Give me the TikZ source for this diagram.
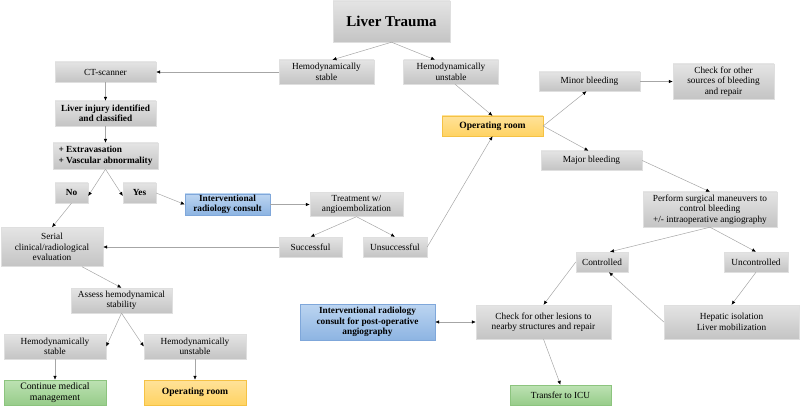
\documentclass[tikz,border=0pt]{standalone}
\usepackage{fontspec}
\setmainfont{Liberation Serif}
\usepackage{xcolor}
\usepackage{tikz}
\usetikzlibrary{arrows.meta,positioning}

\definecolor{boxtop}{HTML}{E4E4E4}
\definecolor{boxbot}{HTML}{C4C4C4}
\definecolor{blutop}{HTML}{BCD5F1}
\definecolor{blubot}{HTML}{8DB4E2}
\definecolor{blubrd}{HTML}{7FA7DA}
\definecolor{ortop}{HTML}{FFE299}
\definecolor{orbot}{HTML}{FFD363}
\definecolor{orbrd}{HTML}{F5C244}
\definecolor{grtop}{HTML}{BDE2B3}
\definecolor{grbot}{HTML}{97CC8A}
\definecolor{grbrd}{HTML}{8CC47E}

\begin{document}
\begin{tikzpicture}[
x=1pt, y=-1pt,
box/.style={
    rectangle, draw=gray!25,
    top color=boxtop, bottom color=boxbot,
    align=center, inner sep=0.5pt,
    font=\fontsize{9.3}{10.5}\selectfont
},
bluebox/.style={box, draw=blubrd, top color=blutop, bottom color=blubot,
    font=\fontsize{9.3}{10.5}\selectfont\bfseries},
orbox/.style={box, draw=orbrd, top color=ortop, bottom color=orbot,
    font=\fontsize{9.6}{10.5}\selectfont\bfseries},
grbox/.style={box, draw=grbrd, top color=grtop, bottom color=grbot},
bold/.style={font=\fontsize{9.3}{10.5}\selectfont\bfseries},
wh/.style 2 args={minimum width=#1pt, minimum height=#2pt},
arr/.style={-{Latex[length=4pt,width=3.5pt,color=black]}, draw=gray!70, line width=0.5pt}
]
\useasboundingbox (0,0) rectangle (800,406);

% top
\node[box, wh={117}{41}, font=\fontsize{15}{17}\selectfont\bfseries] (trauma) at (391.5,21.5) {Liver Trauma};
\node[box, wh={95}{24}] (hstab) at (326.5,72) {Hemodynamically\\stable};
\node[box, wh={95}{24}] (hunst) at (451,72) {Hemodynamically\\unstable};

% left branch
\node[box, wh={101}{20}] (ct) at (105.5,72) {CT-scanner};
\node[box, bold, wh={101}{25}] (injury) at (105.5,113.5) {Liver injury identified\\and classified};
\node[box, bold, wh={105}{26}, align=left] (extrav) at (105.5,156) {+ Extravasation\\+ Vascular abnormality};
\node[box, bold, wh={33}{20}] (no) at (71.5,193) {No};
\node[box, bold, wh={33}{20}] (yes) at (139.5,193) {Yes};
\node[bluebox, wh={85}{21}] (irc) at (227.5,204.5) {Interventional\\radiology consult};
\node[box, wh={93}{24}] (treat) at (356.5,204.5) {Treatment w/\\angioembolization};
\node[box, wh={63}{20}] (succ) at (310.5,247) {Successful};
\node[box, wh={64}{20}] (unsucc) at (395,247) {Unsuccessful};
\node[box, wh={102}{39}] (serial) at (52,247) {Serial\\clinical/radiological\\evaluation};
\node[box, wh={101}{25}] (assess) at (121.5,300.5) {Assess hemodynamical\\stability};
\node[box, wh={102}{25}] (hstab2) at (55,346.5) {Hemodynamically\\stable};
\node[box, wh={102}{25}] (hunst2) at (195,346.5) {Hemodynamically\\unstable};
\node[grbox, wh={102}{25}, font=\fontsize{9.8}{11}\selectfont] (cont) at (55,392.5) {Continue medical\\management};
\node[orbox, wh={102}{25}] (orbot) at (195,392.5) {Operating room};

% right branch
\node[orbox, wh={101}{20}] (ortop) at (492.5,126) {Operating room};
\node[box, wh={101}{19}] (minor) at (589.5,81.5) {Minor bleeding};
\node[box, wh={101}{35}] (sources) at (723.5,81.5) {Check for other\\sources of bleeding\\and repair};
\node[box, wh={101}{19}] (major) at (591.5,160.5) {Major bleeding};
\node[box, wh={134}{35}] (perform) at (710,209.5) {Perform surgical maneuvers to\\control bleeding\\+/- intraoperative angiography};
\node[box, wh={52}{20}] (contr) at (602,262) {Controlled};
\node[box, wh={64}{20}] (uncontr) at (756,262) {Uncontrolled};
\node[box, wh={135}{34}] (hepatic) at (731.5,322) {Hepatic isolation\\Liver mobilization};
\node[box, wh={135}{34}] (lesions) at (543.5,322) {Check for other lesions to\\nearby structures and repair};
\node[bluebox, wh={135}{36}] (irpost) at (367.5,322) {Interventional radiology\\consult for post-operative\\angiography};
\node[grbox, wh={101}{20}] (icu) at (560.5,395) {Transfer to ICU};

% connectors
\draw[arr] (trauma.south) -- ([xshift=6pt]hstab.north);
\draw[arr] (trauma.south) -- ([xshift=-16pt]hunst.north);
\draw[arr] (hstab.west) -- (ct.east);
\draw[arr] ([xshift=4pt]hunst.south) -- (ortop.north);
\draw[arr] (ct) -- (injury);
\draw[arr] (injury) -- (extrav);
\draw[arr] (extrav.south) -- ([yshift=-3pt]no.east);
\draw[arr] (extrav.south) -- ([yshift=-3pt]yes.west);
\draw[arr] (yes.east) -- (irc.west);
\draw[arr] (no.south) -- (serial.north);
\draw[arr] (irc) -- (treat);
\draw[arr] (treat.south) -- (succ.north);
\draw[arr] (treat.south) -- (unsucc.north);
\draw[arr] (succ.west) -- (serial.east);
\draw[arr] (unsucc.east) -- (ortop.south);
\draw[arr] ([xshift=30pt]serial.south) -- (assess.north);
\draw[arr] (assess.south) -- (hstab2.east);
\draw[arr] (assess.south) -- (hunst2.west);
\draw[arr] (hstab2) -- (cont);
\draw[arr] (hunst2) -- (orbot);
\draw[arr] (ortop.east) -- ([xshift=-3pt]minor.south);
\draw[arr] (ortop.east) -- ([xshift=-3pt]major.north);
\draw[arr] (minor.east) -- (sources.west);
\draw[arr] (major.east) -- (perform.north);
\draw[arr] (perform.south) -- ([xshift=8pt]contr.north);
\draw[arr] (perform.south) -- (uncontr.north);
\draw[arr] (contr.west) -- (lesions.north);
\draw[arr] (uncontr.south) -- (hepatic.north);
\draw[arr] (hepatic.west) -- ([xshift=7pt]contr.south);
\draw[{Latex[length=4pt,width=3.5pt,color=black]}-{Latex[length=4pt,width=3.5pt,color=black]}, draw=gray!70, line width=0.5pt] (irpost) -- (lesions);
\draw[arr] (lesions.south) -- (icu.north);

\end{tikzpicture}
\end{document}
